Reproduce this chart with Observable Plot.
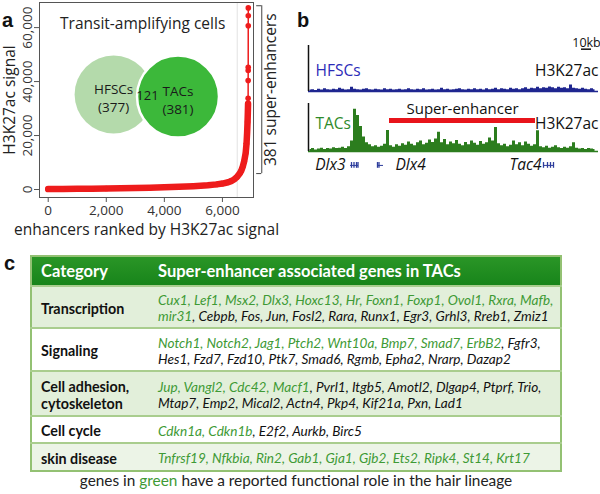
<!DOCTYPE html>
<html><head><meta charset="utf-8">
<script src="https://cdn.jsdelivr.net/npm/d3@7"></script>
<script src="https://cdn.jsdelivr.net/npm/@observablehq/plot@0.6"></script>
<style>
html,body{margin:0;padding:0;background:#fff;}
body{width:600px;height:494px;position:relative;overflow:hidden;font-family:"Open Sans",sans-serif;color:#222;}
.abs{position:absolute;}
.panel{position:absolute;font-family:"Liberation Sans",Arial,sans-serif;font-weight:bold;font-size:20px;line-height:20px;color:#111;}
#tbl{position:absolute;left:30px;top:255px;width:532px;border-collapse:collapse;font-family:Lato,sans-serif;font-size:13.6px;border:2px solid #93c173;}
#tbl td{padding:2px 4px 0 9px;vertical-align:middle;border-top:2px solid #a9cd8e;}
#tbl th{text-align:left;color:#fff;font-weight:bold;font-size:16.5px;padding:0 4px 0 9px;}
#tbl tr.head{background:linear-gradient(#2b9627,#17841a);height:30px;}
#tbl td.cat{font-weight:bold;width:104px;white-space:pre-line;font-size:14.3px;line-height:17px;color:#111;}
#tbl td.genes{font-style:italic;line-height:16px;color:#111;}
.g{color:#3e9a35;}
#cap{position:absolute;left:0;top:471px;width:592px;text-align:center;font-family:Lato,sans-serif;font-size:15.4px;color:#222;}
</style></head><body>
<div class="panel" style="left:2px;top:10px">a</div>
<div class="panel" style="left:297px;top:10px">b</div>
<div class="panel" style="left:4px;top:253px">c</div>
<div id="pa" class="abs" style="left:0;top:0"></div>
<div id="pb1" class="abs" style="left:300px;top:30px"></div>
<div id="pb2" class="abs" style="left:300px;top:95px"></div>
<table id="tbl"></table>
<div id="cap"></div>
<script>
// ---------- Panel a: enhancers ranked by H3K27ac signal ----------
const enhancerRank   = [0, 500, 1000, 1500, 2000, 2500, 3000, 3500, 4000, 4500, 5000, 5500, 5800, 6000, 6200, 6300, 6400, 6500, 6600, 6650, 6700, 6750, 6800, 6830, 6850, 6865, 6875, 6880, 6883, 6885, 6886, 6887, 6888, 6889, 6890, 6891];
const enhancerSignal = [150, 200, 250, 300, 380, 460, 560, 680, 820, 1000, 1250, 1600, 1900, 2200, 2700, 3100, 3700, 4600, 6000, 7000, 8500, 10500, 13500, 17000, 21000, 25000, 28500, 30500, 31800, 33800, 40400, 44100, 45300, 60700, 64400, 67300];
const superEnhancerCutoffRank = 6509;
const superEnhancerCount = 381;
const superEnhancerSignalRange = [5900, 68100];
const xTicksA = [0, 2000, 4000, 6000];
const yTicksA = [0, 20000, 40000, 60000];
const vennSets = ["HFSCs", "TACs"];
const vennCounts = [377, 381];
const vennShared = 121;

// ---------- Panel b: genome browser tracks ----------
const binKb = 3;
const hfscSignal = [3,4,2,5,3,6,4,3,5,4, 7,5,3,4,9,5,4,3,5,6, 4,3,5,4,3,6,4,5,3,4, 5,3,4,6,4,3,5,4,6,3, 4,5,3,4,7,4,5,3,4,5, 6,4,3,5,4,6,4,5,3,6, 4,5,7,4,6,5,4,7,5,6, 4,6,8,5,7,6,9,6,8,7, 10,8,6,9,7,8,6,14,7,6, 5,7,5,4,6,4];
const tacSignal = [4,6,3,5,7,4,6,5,8,6, 7,9,6,10, 22,88,75,52,30,18, 14,10,12,9,11, 15,44, 12,9,14,11, 16,13,20,15,12,18,22,14,17,24, 19,26,40, 18,25,14,20,16,23,15, 12,19,14,22,17,13,21,15,18,28, 22,50, 16,12,15,10,13,22,14,18, 12,20,15,11, 14,43, 10,8,11,7,9,12,8,6,9,7, 10,18, 7,5,6,4,6,5,4];
const superEnhancerKb = [81, 227];
const scaleBarKb = [273, 283];
const geneNames = ["Dlx3", "Dlx4", "Tac4"];
const geneStartKb = [42, 69, 235];
const geneEndKb = [50, 75, 245];
const geneExonKb = [[43, 45.5, 48, 49.5], [69, 70.5], [235, 239, 242, 245]];
const geneLabelKb = [37, 87, 233];
const geneLabelSide = ["end", "start", "end"];

// ---------- Panel c: table ----------
const categories = ["Transcription", "Signaling", "Cell adhesion,\ncytoskeleton", "Cell cycle", "skin disease"];
const transcriptionGenes = ["Cux1","Lef1","Msx2","Dlx3","Hoxc13","Hr","Foxn1","Foxp1","Ovol1","Rxra","Mafb","mir31","Cebpb","Fos","Jun","Fosl2","Rara","Runx1","Egr3","Grhl3","Rreb1","Zmiz1"];
const signalingGenes = ["Notch1","Notch2","Jag1","Ptch2","Wnt10a","Bmp7","Smad7","ErbB2","Fgfr3","Hes1","Fzd7","Fzd10","Ptk7","Smad6","Rgmb","Epha2","Nrarp","Dazap2"];
const adhesionGenes = ["Jup","Vangl2","Cdc42","Macf1","Pvrl1","Itgb5","Amotl2","Dlgap4","Ptprf","Trio","Mtap7","Emp2","Mical2","Actn4","Pkp4","Kif21a","Pxn","Lad1"];
const cellCycleGenes = ["Cdkn1a","Cdkn1b","E2f2","Aurkb","Birc5"];
const skinDiseaseGenes = ["Tnfrsf19","Nfkbia","Rin2","Gab1","Gja1","Gjb2","Ets2","Ripk4","St14","Krt17"];
const greenCounts = [12, 8, 4, 2, 10];
const firstLineCounts = [11, 9, 10, 5, 10];
const tableHeader = ["Category", "Super-enhancer associated genes in TACs"];

const fmt = d3.format(",");
const baseStyle = {fontFamily: "'Open Sans', sans-serif", fontSize: "13px", color: "#333", background: "transparent", overflow: "visible"};

// Panel a
const curve = enhancerRank.map((r, i) => ({rank: r, signal: enhancerSignal[i]}));
const dense = curve.filter(d => d.signal <= 31800);
const maxRank = d3.max(enhancerRank);
const vennA = {set: vennSets[0], count: vennCounts[0], x: 2252, y: 35200};
const vennB = {set: vennSets[1], count: vennCounts[1], x: 4470, y: 34450};
const pa = Plot.plot({
  width: 290, height: 240,
  marginLeft: 39, marginRight: 37, marginTop: 2, marginBottom: 43,
  x: {domain: [-300, 7070]},
  y: {domain: [-2960, 69300]},
  style: baseStyle,
  marks: [
    Plot.ruleX([superEnhancerCutoffRank], {stroke: "#e2e2e2"}),
    Plot.frame({stroke: "#555"}),
    Plot.axisX({ticks: xTicksA, tickFormat: fmt, tickSize: 5, tickPadding: 3, label: null, fontSize: 13.5, stroke: "#555"}),
    Plot.axisY({ticks: yTicksA, tickFormat: fmt, tickSize: 5, tickPadding: 3, tickRotate: -90, label: null, fontSize: 13.5, stroke: "#555"}),
    Plot.text(["H3K27ac signal"], {frameAnchor: "left", dx: -29, rotate: -90, textAnchor: "middle", lineAnchor: "middle", fontSize: 15.5, fill: "#222"}),
    Plot.text(["enhancers ranked by H3K27ac signal"], {frameAnchor: "bottom", dy: 33, textAnchor: "middle", lineAnchor: "middle", fontSize: 15.5, fill: "#222"}),
    Plot.text(["Transit-amplifying cells"], {x: 3252, y: 61480, fontSize: 15.5, fill: "#222"}),
    // Venn diagram
    Plot.dot([vennA], {x: "x", y: "y", r: 39, fill: "#b4daab"}),
    Plot.dot([vennB], {x: "x", y: "y", r: 41, fill: "#3cb83a", stroke: "white", strokeWidth: 2.5}),
    Plot.text([vennA, vennB], {x: "x", y: "y", dy: -5, text: "set", fontSize: 13.5, fill: "#1a1a1a"}),
    Plot.text([vennA, vennB], {x: "x", y: "y", dy: 13, text: d => `(${d.count})`, fontSize: 13.5, fill: "#1a1a1a"}),
    Plot.text([vennShared], {x: 3420, y: 34815, text: d => String(d), fontSize: 13, fill: "#1a1a1a"}),
    // super-enhancer bracket
    Plot.ruleX([7355], {y1: superEnhancerSignalRange[0], y2: superEnhancerSignalRange[1], stroke: "#444"}),
    Plot.ruleY(superEnhancerSignalRange, {x1: 7180, x2: 7355, stroke: "#444"}),
    Plot.text([`${superEnhancerCount} super-enhancers`], {x: maxRank, dx: 22.5, y: (superEnhancerSignalRange[0] + superEnhancerSignalRange[1]) / 2, rotate: -90, fontSize: 15.5, fill: "#222"}),
    // ranked enhancer curve
    Plot.line(dense, {x: "rank", y: "signal", stroke: "#ee1c1c", strokeWidth: 6.5, strokeLinecap: "round"}),
    Plot.line(curve, {x: "rank", y: "signal", stroke: "#ee1c1c", strokeWidth: 1.5}),
    Plot.dot(curve, {x: "rank", y: "signal", r: 2.8, fill: "#ee1c1c"})
  ]
});
document.getElementById("pa").append(pa);

// Panel b
const kbX = (d, i) => i * binKb + binKb / 2;
const trackX = {domain: [0, 290], axis: null};
const trackY = {domain: [0, 100], axis: null};
const hfCol = "#1f2690", tacCol = "#2c7d1e";
const pb1 = Plot.plot({
  width: 300, height: 64, marginLeft: 8, marginRight: 2, marginTop: 15, marginBottom: 3,
  x: trackX, y: trackY, style: baseStyle,
  marks: [
    Plot.areaY(hfscSignal, {x: kbX, y: d => d, curve: "step", fill: hfCol}),
    Plot.ruleY([0], {stroke: hfCol, strokeWidth: 1.5}),
    Plot.ruleX([0], {stroke: "#111", strokeWidth: 1.5}),
    Plot.text(["HFSCs"], {x: 7, y: 44, textAnchor: "start", fill: "#2b2bb8", fontSize: 15.5}),
    Plot.text(["H3K27ac"], {x: 290, y: 45, textAnchor: "end", fill: "#111", fontSize: 15.5}),
    Plot.text(["10kb"], {x: (scaleBarKb[0] + scaleBarKb[1]) / 2, y: 105, fill: "#111", fontSize: 12.5}),
    Plot.ruleY([92], {x1: scaleBarKb[0], x2: scaleBarKb[1], stroke: "#111", strokeWidth: 1.5})
  ]
});
document.getElementById("pb1").append(pb1);

const genes = geneNames.map((g, i) => ({name: g, start: geneStartKb[i], end: geneEndKb[i], label: geneLabelKb[i], anchor: geneLabelSide[i]}));
const exons = geneExonKb.flatMap(arr => arr.map(k => ({kb: k})));
const geneTextOpts = {x: "label", y: -29, text: "name", fontStyle: "italic", fontSize: 15.5, fill: "#111"};
const pb2 = Plot.plot({
  width: 300, height: 80, marginLeft: 8, marginRight: 2, marginTop: 8, marginBottom: 24,
  x: trackX, y: trackY, style: baseStyle,
  marks: [
    Plot.areaY(tacSignal, {x: kbX, y: d => d, curve: "step", fill: tacCol}),
    Plot.ruleY([0], {stroke: tacCol, strokeWidth: 1.5}),
    Plot.ruleX([0], {stroke: "#111", strokeWidth: 1.5}),
    Plot.text(["TACs"], {x: 7, y: 58, textAnchor: "start", fill: "#2e8a2a", fontSize: 15.5}),
    Plot.text(["H3K27ac"], {x: 290, y: 58, textAnchor: "end", fill: "#111", fontSize: 15.5}),
    Plot.ruleY([64.5], {x1: superEnhancerKb[0], x2: superEnhancerKb[1], stroke: "#e8141b", strokeWidth: 5}),
    Plot.text(["Super-enhancer"], {x: (superEnhancerKb[0] + superEnhancerKb[1]) / 2, y: 87.5, fill: "#111", fontSize: 15}),
    // gene annotations
    Plot.ruleY(genes, {x1: "start", x2: "end", y: -29, stroke: "#2c3c9c", strokeWidth: 1}),
    Plot.ruleX(exons, {x: "kb", y1: -35, y2: -23, stroke: "#2c3c9c", strokeWidth: 1.3}),
    Plot.text(genes.filter(d => d.anchor === "end"), {...geneTextOpts, textAnchor: "end"}),
    Plot.text(genes.filter(d => d.anchor === "start"), {...geneTextOpts, textAnchor: "start"})
  ]
});
document.getElementById("pb2").append(pb2);

// Panel c: table
const geneLists = [transcriptionGenes, signalingGenes, adhesionGenes, cellCycleGenes, skinDiseaseGenes];
const rowHeights = [42, 43, 45, 27, 28];
const rowBg = ["#e2efda", "#ffffff", "#e2efda", "#ffffff", "#ecf4e7"];
const tbl = document.getElementById("tbl");
let html = `<tr class="head"><th>${tableHeader[0]}</th><th>${tableHeader[1]}</th></tr>`;
categories.forEach((cat, ci) => {
  const list = geneLists[ci];
  const nGreen = greenCounts[ci];
  let s = "";
  list.forEach((g, gi) => {
    s += `<span class="${gi < nGreen ? "g" : ""}">${g}</span>`;
    if (gi < list.length - 1) {
      s += `<span class="${gi + 1 < nGreen ? "g" : ""}">,</span>`;
      s += gi + 1 === firstLineCounts[ci] ? "<br>" : " ";
    }
  });
  html += `<tr style="height:${rowHeights[ci]}px;background:${rowBg[ci]}"><td class="cat">${cat}</td><td class="genes">${s}</td></tr>`;
});
tbl.innerHTML = html;
document.getElementById("cap").innerHTML = `genes in <span class="g">green</span> have a reported functional role in the hair lineage`;
</script>
</body></html>
